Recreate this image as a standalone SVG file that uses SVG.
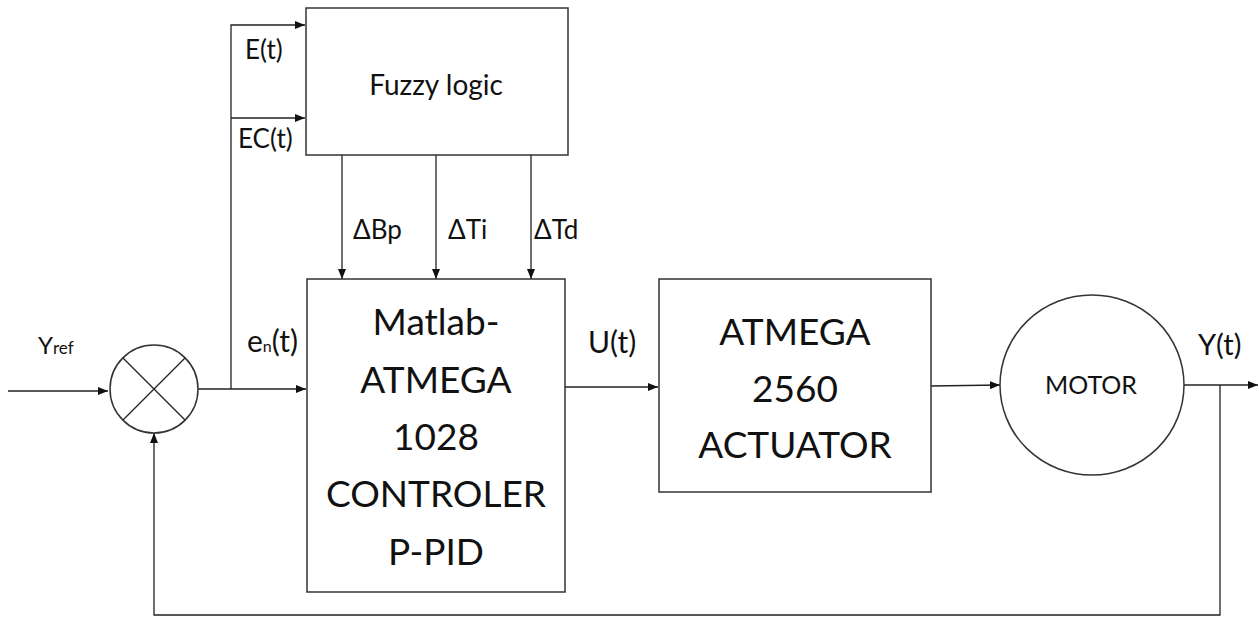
<svg xmlns="http://www.w3.org/2000/svg" width="1260" height="617" viewBox="0 0 1260 617">
<style>
.box{fill:#fff;stroke:#333;stroke-width:1.5}
.ln{fill:none;stroke:#222;stroke-width:1.3}
text{font-family:Lato,"Open Sans","Liberation Sans",sans-serif;fill:#111}
.big{font-size:37px;text-anchor:middle}
.lbl{font-size:26px}
</style>
<defs>
<marker id="ah" viewBox="0 0 10 8" refX="10" refY="4" markerWidth="10" markerHeight="8" markerUnits="userSpaceOnUse" orient="auto">
<path d="M0,0 L10,4 L0,8 Z" fill="#111"/>
</marker>
</defs>
<rect width="1260" height="617" fill="#fff"/>
<g id="connectors">
<line class="ln" x1="8" y1="391" x2="108" y2="391" marker-end="url(#ah)"/>
<line class="ln" x1="198" y1="389" x2="306" y2="389" marker-end="url(#ah)"/>
<polyline class="ln" points="231,389 231,25 305,25" marker-end="url(#ah)"/>
<line class="ln" x1="231" y1="118" x2="305" y2="118" marker-end="url(#ah)"/>
<line class="ln" x1="342" y1="155" x2="342" y2="279" marker-end="url(#ah)"/>
<line class="ln" x1="436" y1="155" x2="436" y2="279" marker-end="url(#ah)"/>
<line class="ln" x1="531" y1="155" x2="531" y2="279" marker-end="url(#ah)"/>
<line class="ln" x1="565" y1="387" x2="658" y2="387" marker-end="url(#ah)"/>
<line class="ln" x1="931" y1="386" x2="1000" y2="385" marker-end="url(#ah)"/>
<line class="ln" x1="1184" y1="385" x2="1258" y2="385" marker-end="url(#ah)"/>
<polyline class="ln" points="1220,385 1220,615 154,615 154,433" marker-end="url(#ah)"/>
</g>
<g id="sum">
<circle class="box" cx="154" cy="389" r="44"/>
<line class="ln" x1="123" y1="358" x2="185" y2="420"/>
<line class="ln" x1="185" y1="358" x2="123" y2="420"/>
</g>
<g id="fuzzy">
<rect class="box" x="306" y="8" width="262" height="147"/>
<text x="436" y="95" font-size="28" text-anchor="middle">Fuzzy logic</text>
</g>
<g id="controller">
<rect class="box" x="307" y="279" width="258" height="313"/>
<text class="big" x="436" y="335">Matlab-</text>
<text class="big" x="436" y="393">ATMEGA</text>
<text class="big" x="436" y="450">1028</text>
<text class="big" x="436" y="507">CONTROLER</text>
<text class="big" x="436" y="565">P-PID</text>
</g>
<g id="actuator">
<rect class="box" x="659" y="279" width="272" height="213"/>
<text class="big" x="795" y="345">ATMEGA</text>
<text class="big" x="795" y="402">2560</text>
<text class="big" x="795" y="458">ACTUATOR</text>
</g>
<g id="motor">
<ellipse class="box" cx="1092" cy="385" rx="92" ry="90"/>
<text x="1091" y="394" font-size="25" text-anchor="middle">MOTOR</text>
</g>
<g id="labels">
<text class="lbl" x="245" y="59">E(t)</text>
<text class="lbl" x="238" y="148">EC(t)</text>
<text x="353" y="239" font-size="26">ΔBp</text>
<text x="448" y="239" font-size="26">ΔTi</text>
<text x="534" y="239" font-size="26">ΔTd</text>
<text x="38" y="354" font-size="24">Y<tspan font-size="17">ref</tspan></text>
<text x="247" y="352" font-size="30">e<tspan font-size="16">n</tspan>(t)</text>
<text x="588" y="353" font-size="30">U(t)</text>
<text x="1198" y="355" font-size="29">Y(t)</text>
</g>
</svg>
